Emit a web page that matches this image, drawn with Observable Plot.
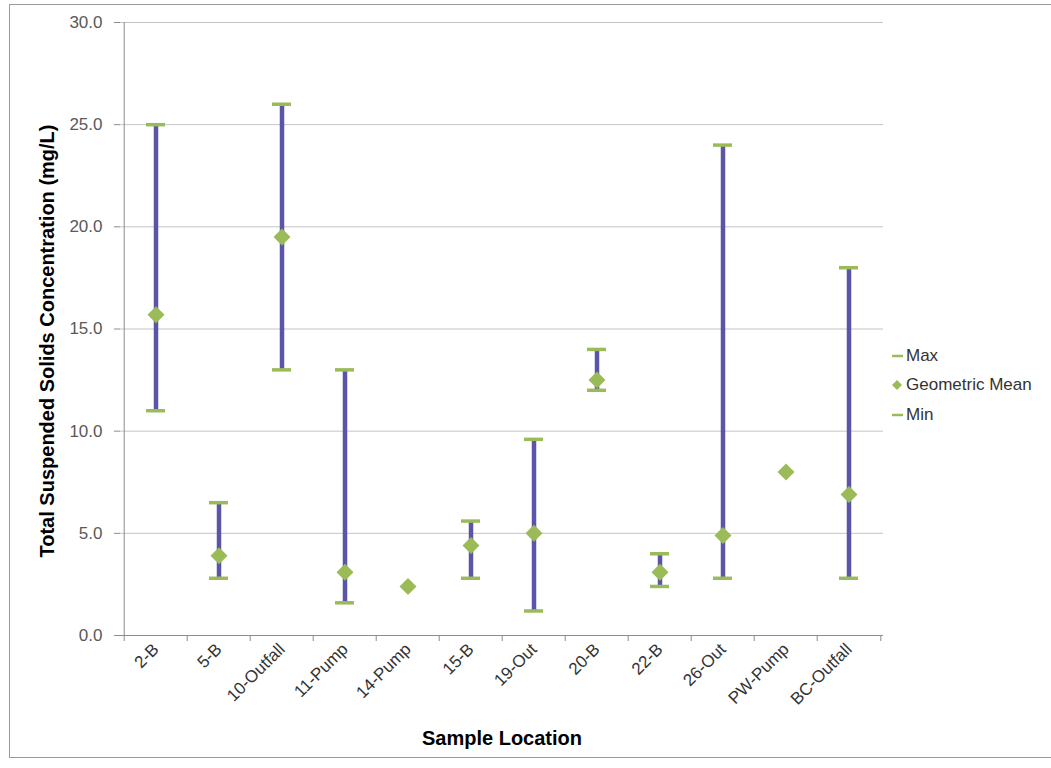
<!DOCTYPE html>
<html>
<head>
<meta charset="utf-8">
<script src="https://cdn.jsdelivr.net/npm/d3@7"></script>
<script src="https://cdn.jsdelivr.net/npm/@observablehq/plot@0.6"></script>
<style>
  html, body { margin: 0; padding: 0; background: #fff; overflow: hidden; }
  #wrap { position: relative; width: 1051px; height: 768px; font-family: "Liberation Sans", Arial, sans-serif; }
  #chart svg { position: absolute; left: 0; top: 0; }
  #frame { position: absolute; left: 9px; top: 4px; width: 1100px; height: 752px; border: 1px solid #9a9a9a; pointer-events: none; }
  #legend { position: absolute; left: 889px; top: 341px; font-size: 17px; color: #333; }
  #legend .row { display: flex; align-items: center; height: 29.5px; }
  #legend svg { margin-right: 1px; }
</style>
</head>
<body>
<div id="wrap">
  <div id="chart"></div>
  <div id="legend"></div>
  <div id="frame"></div>
</div>
<script>
// Total suspended solids by sample location (mg/L)
const locations = ["2-B", "5-B", "10-Outfall", "11-Pump", "14-Pump", "15-B", "19-Out", "20-B", "22-B", "26-Out", "PW-Pump", "BC-Outfall"];
const maxValues = [25.0, 6.5, 26.0, 13.0, null, 5.6, 9.6, 14.0, 4.0, 24.0, null, 18.0];
const geoMeanValues = [15.7, 3.9, 19.5, 3.1, 2.4, 4.4, 5.0, 12.5, 3.1, 4.9, 8.0, 6.9];
const minValues = [11.0, 2.8, 13.0, 1.6, null, 2.8, 1.2, 12.0, 2.4, 2.8, null, 2.8];
const yTicks = [0, 5, 10, 15, 20, 25, 30];
const seriesNames = ["Max", "Geometric Mean", "Min"];

const rows = locations.map((location, i) => ({
  location,
  max: maxValues[i],
  mean: geoMeanValues[i],
  min: minValues[i]
}));
const ranged = rows.filter(d => d.max != null && d.min != null);

const W = 1051, H = 768;
const margin = {top: 22, right: 168, bottom: 133, left: 120};
const band = (W - margin.left - margin.right) / locations.length;

const lineColor = "#5a55a8";
const markerColor = "#9bbb59";

// filled diamond whose half-diagonal equals the dot radius
const diamond = {
  draw(ctx, size) {
    const h = Math.sqrt(size / Math.PI);
    ctx.moveTo(0, -h); ctx.lineTo(h, 0); ctx.lineTo(0, h); ctx.lineTo(-h, 0); ctx.closePath();
  }
};

const chart = Plot.plot({
  width: W,
  height: H,
  marginTop: margin.top,
  marginRight: margin.right,
  marginBottom: margin.bottom,
  marginLeft: margin.left,
  style: {background: "transparent", fontFamily: "'Liberation Sans', Arial, sans-serif", fontSize: "17px"},
  x: {type: "band", domain: locations, padding: 0},
  y: {domain: [0, 30]},
  marks: [
    Plot.gridY(yTicks.filter(t => t > 0), {stroke: "#c4c4c4", strokeOpacity: 1}),
    Plot.axisY({ticks: yTicks, tickFormat: d => d.toFixed(1), tickSize: 6, tickPadding: 12, stroke: "#8c8c8c", fill: "#595959", fontSize: 17, label: null}),
    Plot.axisX({tickSize: 0, tickRotate: -45, tickPadding: 11, fill: "#333", fontSize: 17, label: null}),
    // category boundary ticks below the baseline
    Plot.ruleX(locations, {x: d => d, y1: () => 0, y2: () => 0, insetBottom: -6, dx: -band / 2, stroke: "#8c8c8c"}),
    Plot.ruleX(locations.slice(-1), {x: d => d, y1: () => 0, y2: () => 0, insetBottom: -6, dx: band / 2, stroke: "#8c8c8c"}),
    // value axis line and baseline
    Plot.ruleX(locations.slice(0, 1), {x: d => d, y1: () => 0, y2: () => 30, dx: -band / 2, stroke: "#8c8c8c"}),
    Plot.ruleY([0], {stroke: "#8c8c8c"}),
    // min–max range
    Plot.ruleX(ranged, {x: "location", y1: "min", y2: "max", stroke: lineColor, strokeWidth: 4.5}),
    Plot.tickY(ranged, {x: "location", y: "max", stroke: markerColor, strokeWidth: 3.5, insetLeft: 22, insetRight: 22}),
    Plot.tickY(ranged, {x: "location", y: "min", stroke: markerColor, strokeWidth: 3.5, insetLeft: 22, insetRight: 22}),
    Plot.dot(rows, {x: "location", y: "mean", symbol: diamond, r: 8.5, fill: markerColor, stroke: "none"}),
    // axis titles
    Plot.text(["Total Suspended Solids Concentration (mg/L)"], {frameAnchor: "left", textAnchor: "middle", dx: -73, dy: 12, rotate: -90, fontWeight: "bold", fontSize: 20, fill: "#000"}),
    Plot.text(["Sample Location"], {frameAnchor: "bottom", dy: 109, fontWeight: "bold", fontSize: 20, fill: "#000"})
  ]
});
document.getElementById("chart").append(chart);

// legend
const legend = document.getElementById("legend");
seriesNames.forEach(name => {
  const row = document.createElement("div");
  row.className = "row";
  const marker = name === "Geometric Mean"
    ? `<svg width="16" height="12"><path d="M8,1 L13,6 L8,11 L3,6 Z" fill="${markerColor}"/></svg>`
    : `<svg width="16" height="12"><line x1="3" x2="14" y1="6" y2="6" stroke="${markerColor}" stroke-width="2.5"/></svg>`;
  row.innerHTML = marker + `<span>${name}</span>`;
  legend.append(row);
});
</script>
</body>
</html>
